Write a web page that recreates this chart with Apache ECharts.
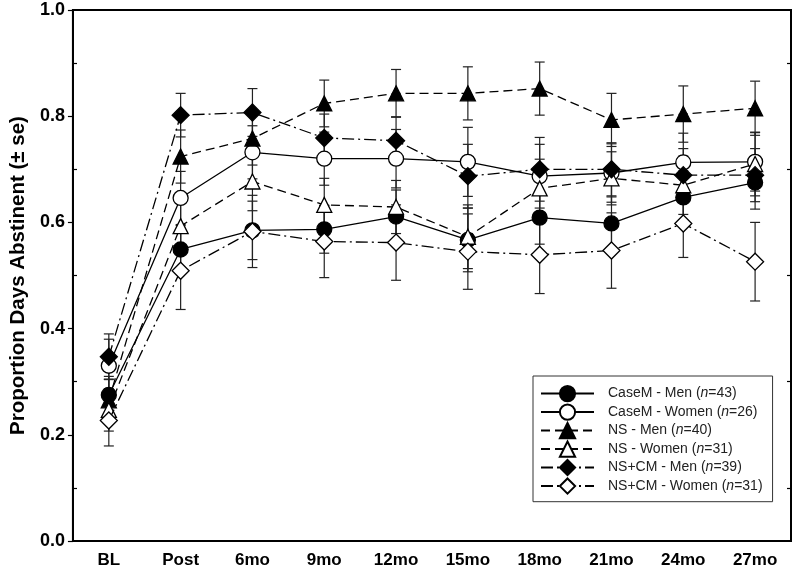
<!DOCTYPE html>
<html>
<head>
<meta charset="utf-8">
<script src="https://cdn.jsdelivr.net/npm/echarts@6/dist/echarts.min.js"></script>
<style>html,body{margin:0;padding:0;background:#fff;}#chart{width:800px;height:580px;}</style>
</head>
<body>
<div id="chart"></div>
<script>
// ---- data ----
const categories = ['BL', 'Post', '6mo', '9mo', '12mo', '15mo', '18mo', '21mo', '24mo', '27mo'];
const seriesNames = ['CaseM - Men', 'CaseM - Women', 'NS - Men', 'NS - Women', 'NS+CM - Men', 'NS+CM - Women'];
const groupN = [43, 26, 40, 31, 39, 31];

const caseMMen     = [0.275, 0.549, 0.585, 0.587, 0.611, 0.567, 0.609, 0.598, 0.647, 0.675];
const caseMMenSE   = [0.035, 0.045, 0.055, 0.045, 0.050, 0.060, 0.050, 0.050, 0.050, 0.050];
const caseMWomen   = [0.330, 0.646, 0.732, 0.720, 0.720, 0.714, 0.687, 0.693, 0.713, 0.714];
const caseMWomenSE = [0.050, 0.050, 0.050, 0.050, 0.055, 0.065, 0.060, 0.055, 0.055, 0.055];
const nsMen        = [0.265, 0.724, 0.758, 0.824, 0.843, 0.843, 0.852, 0.793, 0.804, 0.815];
const nsMenSE      = [0.040, 0.050, 0.050, 0.044, 0.045, 0.050, 0.050, 0.050, 0.053, 0.051];
const nsWomen      = [0.247, 0.593, 0.677, 0.633, 0.629, 0.573, 0.664, 0.683, 0.670, 0.710];
const nsWomenSE    = [0.040, 0.050, 0.055, 0.050, 0.050, 0.060, 0.055, 0.050, 0.055, 0.060];
const nscmMen      = [0.347, 0.802, 0.807, 0.759, 0.754, 0.687, 0.700, 0.700, 0.689, 0.689];
const nscmMenSE    = [0.043, 0.041, 0.045, 0.045, 0.045, 0.060, 0.060, 0.050, 0.050, 0.050];
const nscmWomen    = [0.227, 0.509, 0.583, 0.564, 0.562, 0.545, 0.539, 0.547, 0.598, 0.526];
const nscmWomenSE  = [0.048, 0.073, 0.068, 0.068, 0.071, 0.071, 0.073, 0.071, 0.064, 0.074];

const yLabelValues = [0, 0.2, 0.4, 0.6, 0.8, 1.0];
const minorTickValues = [0.1, 0.3, 0.5, 0.7, 0.9];

// ---- styles ----
const means = [caseMMen, caseMWomen, nsMen, nsWomen, nscmMen, nscmWomen];
const ses = [caseMMenSE, caseMWomenSE, nsMenSE, nsWomenSE, nscmMenSE, nscmWomenSE];
const symbols = ['circle', 'circle', 'triangle', 'triangle', 'diamond', 'diamond'];
const symbolSizes = [15, 15, 15, 15, 17, 17];
const filled = [true, false, true, false, true, false];
const dashes = ['solid', 'solid', [9, 5], [9, 5], [12, 4, 2, 4], [12, 4, 2, 4]];
const FONT = 'Liberation Sans, Arial, sans-serif';

const chart = echarts.init(document.getElementById('chart'), null, {renderer: 'canvas'});

const errData = [];
means.forEach((m, s) => {
  m.forEach((v, i) => errData.push([i, v - ses[s][i], v + ses[s][i]]));
});

const lineSeries = means.map((m, s) => ({
  name: seriesNames[s],
  type: 'line',
  data: m,
  symbol: symbols[s],
  symbolSize: symbolSizes[s],
  z: 3 + s,
  lineStyle: {color: '#000', width: 1.3, type: dashes[s]},
  itemStyle: {color: filled[s] ? '#000' : '#fff', borderColor: '#000', borderWidth: 1.3},
  emphasis: {disabled: true}
}));

const errSeries = {
  name: 'errorbars',
  type: 'custom',
  z: 2,
  data: errData,
  renderItem: function (params, api) {
    const x = api.value(0);
    const lo = api.coord([x, api.value(1)]);
    const hi = api.coord([x, api.value(2)]);
    const hw = 5;
    const st = {stroke: '#222', lineWidth: 1.2};
    return {
      type: 'group',
      children: [
        {type: 'line', shape: {x1: lo[0], y1: lo[1], x2: hi[0], y2: hi[1]}, style: st},
        {type: 'line', shape: {x1: lo[0] - hw, y1: lo[1], x2: lo[0] + hw, y2: lo[1]}, style: st},
        {type: 'line', shape: {x1: hi[0] - hw, y1: hi[1], x2: hi[0] + hw, y2: hi[1]}, style: st}
      ]
    };
  },
  silent: true
};

const gridBox = {left: 72, right: 9, top: 10, bottom: 39};

const option = {
  animation: false,
  backgroundColor: '#fff',
  textStyle: {fontFamily: FONT},
  grid: [
    Object.assign({show: true, borderColor: '#000', borderWidth: 2, backgroundColor: 'transparent'}, gridBox),
    Object.assign({show: false}, gridBox)
  ],
  legend: {
    orient: 'vertical',
    left: 533,
    top: 376,
    data: seriesNames,
    itemWidth: 53,
    itemHeight: 19,
    itemGap: 1.3,
    padding: [9, 10, 7, 7],
    borderColor: '#333',
    borderWidth: 1,
    backgroundColor: '#fff',
    borderRadius: 0,
    selectedMode: false,
    formatter: function (name) {
      const i = seriesNames.indexOf(name);
      return name + ' ({it|n}=' + groupN[i] + ')';
    },
    textStyle: {
      fontSize: 14,
      color: '#222',
      fontFamily: FONT,
      padding: [0, 0, 0, 9],
      rich: {it: {fontStyle: 'italic', fontSize: 14, color: '#222', fontFamily: FONT}}
    }
  },
  xAxis: [{
    type: 'category',
    gridIndex: 0,
    data: categories,
    boundaryGap: true,
    axisLine: {lineStyle: {color: '#000', width: 2}},
    axisTick: {alignWithLabel: true, length: 5, lineStyle: {color: '#000', width: 1.2}},
    axisLabel: {color: '#000', fontWeight: 'bold', fontSize: 17, margin: 11, interval: 0},
    splitLine: {show: false}
  }, {
    type: 'category',
    gridIndex: 1,
    data: categories,
    show: false
  }],
  yAxis: [{
    type: 'value',
    gridIndex: 0,
    min: 0,
    max: 1,
    interval: 0.1,
    name: 'Proportion Days Abstinent (± se)',
    nameLocation: 'middle',
    nameGap: 42,
    nameTextStyle: {fontWeight: 'bold', fontSize: 20.5, color: '#000'},
    axisLine: {show: true, lineStyle: {color: '#000', width: 2}},
    axisTick: {show: true, length: 5, customValues: yLabelValues, lineStyle: {color: '#000', width: 1.2}},
    axisLabel: {color: '#000', fontWeight: 'bold', fontSize: 18, margin: 8, customValues: yLabelValues,
      formatter: v => v.toFixed(1)},
    splitLine: {show: false}
  }, {
    type: 'value',
    gridIndex: 0,
    position: 'right',
    min: 0,
    max: 1,
    interval: 0.1,
    axisLine: {show: true, lineStyle: {color: '#000', width: 2}},
    axisTick: {show: true, inside: true, length: 4, customValues: minorTickValues, lineStyle: {color: '#000', width: 1.2}},
    axisLabel: {show: false},
    splitLine: {show: false}
  }, {
    type: 'value',
    gridIndex: 1,
    position: 'left',
    min: 0,
    max: 1,
    interval: 0.1,
    axisLine: {show: false},
    axisTick: {show: true, inside: true, length: 5, customValues: minorTickValues, lineStyle: {color: '#000', width: 1.2}},
    axisLabel: {show: false},
    splitLine: {show: false}
  }],
  series: [errSeries].concat(lineSeries)
};
chart.setOption(option);
</script>
</body>
</html>
